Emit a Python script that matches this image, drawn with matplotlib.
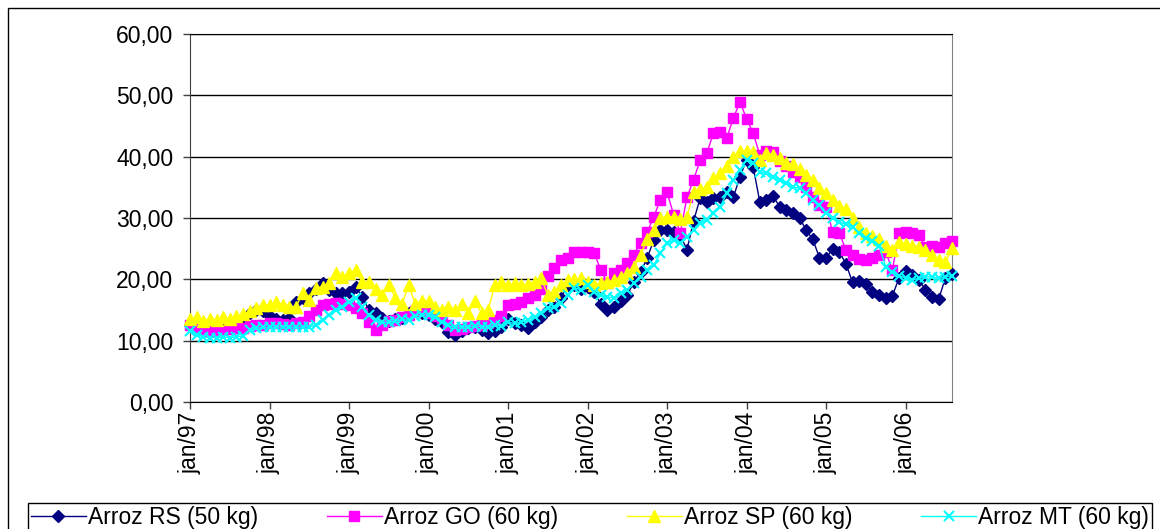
import matplotlib
matplotlib.use("Agg")
import matplotlib.pyplot as plt
from matplotlib.patches import Rectangle
import numpy as np

plt.rcParams['font.family'] = ['Liberation Sans', 'DejaVu Sans']

# monthly prices, jan/97 .. aug/06 (R$ per sack)
arroz_rs = [12.5, 12.3, 12.2, 12.0, 12.2, 12.3, 12.5, 12.8, 13.5, 14.5, 15.0, 14.8,
            14.0, 13.6, 13.4, 13.7, 16.3, 17.0, 17.8, 18.5, 19.4, 18.3, 17.8, 17.8,
            17.9, 18.8, 17.1, 15.0, 14.5, 13.7, 13.2, 13.5, 13.7, 14.5, 15.0, 14.5,
            14.2, 13.5, 13.0, 11.4, 11.0, 11.5, 12.1, 12.3, 11.7, 11.2, 11.5, 12.2,
            13.5, 12.9, 12.6, 12.1, 13.0, 13.9, 15.0, 15.5, 17.0, 19.0, 19.1, 18.5,
            18.8, 17.9, 16.0, 15.0, 15.5, 16.5, 17.5, 19.5, 21.2, 23.5, 26.4, 28.0,
            28.0, 27.7, 27.2, 24.8, 29.5, 33.3, 32.6, 33.3, 33.5, 34.2, 33.4, 36.7,
            39.5, 38.3, 32.6, 33.0, 33.6, 31.8, 31.3, 30.8, 30.0, 28.0, 26.5, 23.5,
            23.5, 25.0, 24.5, 22.5, 19.5, 19.8, 19.2, 18.0, 17.5, 17.0, 17.3, 20.2,
            21.3, 20.7, 19.9, 18.3, 17.2, 16.8, 20.2, 20.8]

arroz_go = [12.5, 12.2, 11.8, 11.6, 11.8, 11.7, 11.9, 12.0, 12.1, 12.4, 12.6, 12.6,
            12.8, 12.9, 12.7, 12.6, 12.8, 13.0, 14.0, 15.0, 15.8, 16.0, 16.1, 16.0,
            15.8, 15.3, 14.5, 13.0, 11.7, 12.5, 13.2, 13.4, 13.8, 14.2, 14.8, 15.2,
            14.5, 14.0, 13.7, 12.5, 11.7, 11.9, 12.2, 12.4, 12.6, 12.8, 13.4, 14.0,
            15.8, 16.0, 16.3, 17.0, 17.5, 18.5, 20.5, 21.8, 23.1, 23.5, 24.5, 24.5,
            24.5, 24.3, 21.5, 19.4, 21.0, 21.5, 22.7, 24.0, 26.0, 27.7, 30.2, 33.0,
            34.2, 30.5, 27.6, 33.4, 36.2, 39.5, 40.6, 43.8, 44.0, 43.0, 46.3, 48.9,
            46.2, 43.8, 40.3, 41.0, 40.8, 39.3, 38.5, 37.5, 36.7, 35.0, 33.5, 32.1,
            31.8, 27.7, 27.5, 24.8, 24.0, 23.3, 23.2, 23.5, 24.0, 24.5, 21.5, 27.5,
            27.7, 27.6, 27.2, 25.2, 25.5, 25.3, 26.0, 26.3]

arroz_sp = [13.5, 13.8, 13.2, 13.6, 13.4, 13.8, 13.5, 14.0, 14.3, 14.8, 15.3, 15.8,
            15.8, 16.3, 15.8, 15.5, 15.5, 17.8, 16.6, 18.6, 18.8, 19.4, 21.0, 20.4,
            21.0, 21.5, 19.5, 19.5, 18.5, 17.5, 19.0, 17.0, 16.0, 19.0, 16.0, 16.5,
            16.5, 15.5, 15.0, 15.5, 15.0, 16.0, 14.5, 16.5, 14.5, 15.0, 19.1, 19.5,
            19.0, 19.4, 19.0, 19.2, 19.6, 20.2, 17.4, 17.9, 19.0, 19.9, 20.0, 20.2,
            19.6, 19.0, 19.4, 19.5, 19.9, 20.4, 21.0, 22.0, 24.0, 26.5, 28.0, 30.0,
            30.2, 30.2, 29.8, 30.2, 34.2, 34.8, 35.0, 36.5, 37.3, 38.5, 40.0, 41.0,
            41.0, 40.8, 39.5, 40.6, 40.3, 39.8, 39.0, 38.8, 38.0, 37.0, 36.2, 34.9,
            34.0, 33.0, 32.0, 31.5, 30.0, 28.5, 27.6, 27.0, 26.5, 25.5, 24.8, 26.1,
            25.8, 25.5, 25.3, 24.8, 24.0, 23.2, 22.8, 25.1]

arroz_mt = [11.5, 11.0, 10.6, 10.5, 10.5, 10.6, 10.5, 10.6, 10.8, 11.7, 12.0, 12.2,
            12.2, 12.2, 12.3, 12.2, 12.2, 12.2, 12.3, 12.5, 13.4, 14.2, 15.0, 15.5,
            16.3, 17.0, 15.5, 14.2, 13.4, 13.0, 13.0, 13.2, 13.5, 13.3, 14.0, 14.2,
            14.2, 13.8, 13.0, 12.5, 12.2, 12.3, 12.2, 12.4, 12.3, 12.2, 12.5, 12.4,
            13.0, 12.8, 13.0, 13.4, 13.9, 14.5, 15.3, 15.5, 16.1, 17.4, 18.6, 18.3,
            19.1, 17.9, 17.4, 17.1, 17.0, 17.8, 18.3, 19.4, 20.4, 21.5, 22.3, 24.3,
            25.9, 26.4, 25.9, 26.9, 28.0, 29.2, 29.7, 30.8, 31.8, 34.0, 36.2, 37.8,
            39.5, 39.0, 37.5, 37.3, 36.7, 36.2, 35.7, 35.0, 34.9, 34.0, 33.0, 32.1,
            30.8, 30.0, 29.3, 29.0, 28.5, 27.5, 26.8, 26.2, 25.5, 22.0, 21.2, 20.6,
            20.2, 19.9, 20.2, 20.4, 20.4, 20.2, 20.4, 20.6]

year_labels = ['jan/97', 'jan/98', 'jan/99', 'jan/00', 'jan/01',
               'jan/02', 'jan/03', 'jan/04', 'jan/05', 'jan/06']

W, H = 1160, 529
fig = plt.figure(figsize=(W / 100, H / 100), dpi=100)
ax = fig.add_axes([190 / W, 1 - 402 / H, 762 / W, 368 / H])

x = np.arange(len(arroz_rs))
ax.plot(x, arroz_rs, color='#000080', lw=1, marker='D', markersize=6.5,
        label='Arroz RS (50 kg)', clip_on=False, zorder=3)
ax.plot(x, arroz_go, color='#FF00FF', lw=1, marker='s', markersize=7,
        label='Arroz GO (60 kg)', clip_on=False, zorder=3)
ax.plot(x, arroz_sp, color='#FFFF00', lw=1, marker='^', markersize=8,
        label='Arroz SP (60 kg)', clip_on=False, zorder=3)
ax.plot(x, arroz_mt, color='#00FFFF', lw=1, marker='x', markersize=7,
        markeredgewidth=1.5, label='Arroz MT (60 kg)', clip_on=False, zorder=3)

ax.set_xlim(0, len(x) - 1)
ax.set_ylim(0, 60)

yt = np.arange(0, 61, 10)
ax.set_yticks(yt)
ax.set_yticklabels([('%.2f' % v).replace('.', ',') for v in yt])
ax.set_xticks(np.arange(0, len(x), 12))
ax.set_xticklabels(year_labels, rotation=90)

ax.yaxis.grid(True, color='black', lw=1)
ax.set_axisbelow(True)
ax.tick_params(axis='y', direction='out', length=5, width=1, color='#404040',
               labelsize=16.5, pad=7)
ax.tick_params(axis='x', direction='out', length=5, width=1, color='#404040',
               labelsize=16.5, pad=2)

ax.spines['left'].set_color('#404040')
ax.spines['right'].set_color('#808080')
ax.spines['top'].set_color('black')
ax.spines['bottom'].set_color('black')

# chart border
fig.patches.append(Rectangle((8 / W, -0.05), 1.1, 1 - 8 / H + 0.05,
                             transform=fig.transFigure, fill=False,
                             edgecolor='black', lw=1))

leg = fig.legend(loc='upper left', ncol=4, mode='expand',
                 bbox_to_anchor=(28 / W, 0, 1124 / W, 1 - 503 / H),
                 fontsize=16.5, frameon=True, fancybox=False, framealpha=1,
                 edgecolor='black', borderpad=0.12, handlelength=2.4,
                 handletextpad=0.1, borderaxespad=0)
leg.get_frame().set_linewidth(1)

fig.savefig('out.png', dpi=100)
